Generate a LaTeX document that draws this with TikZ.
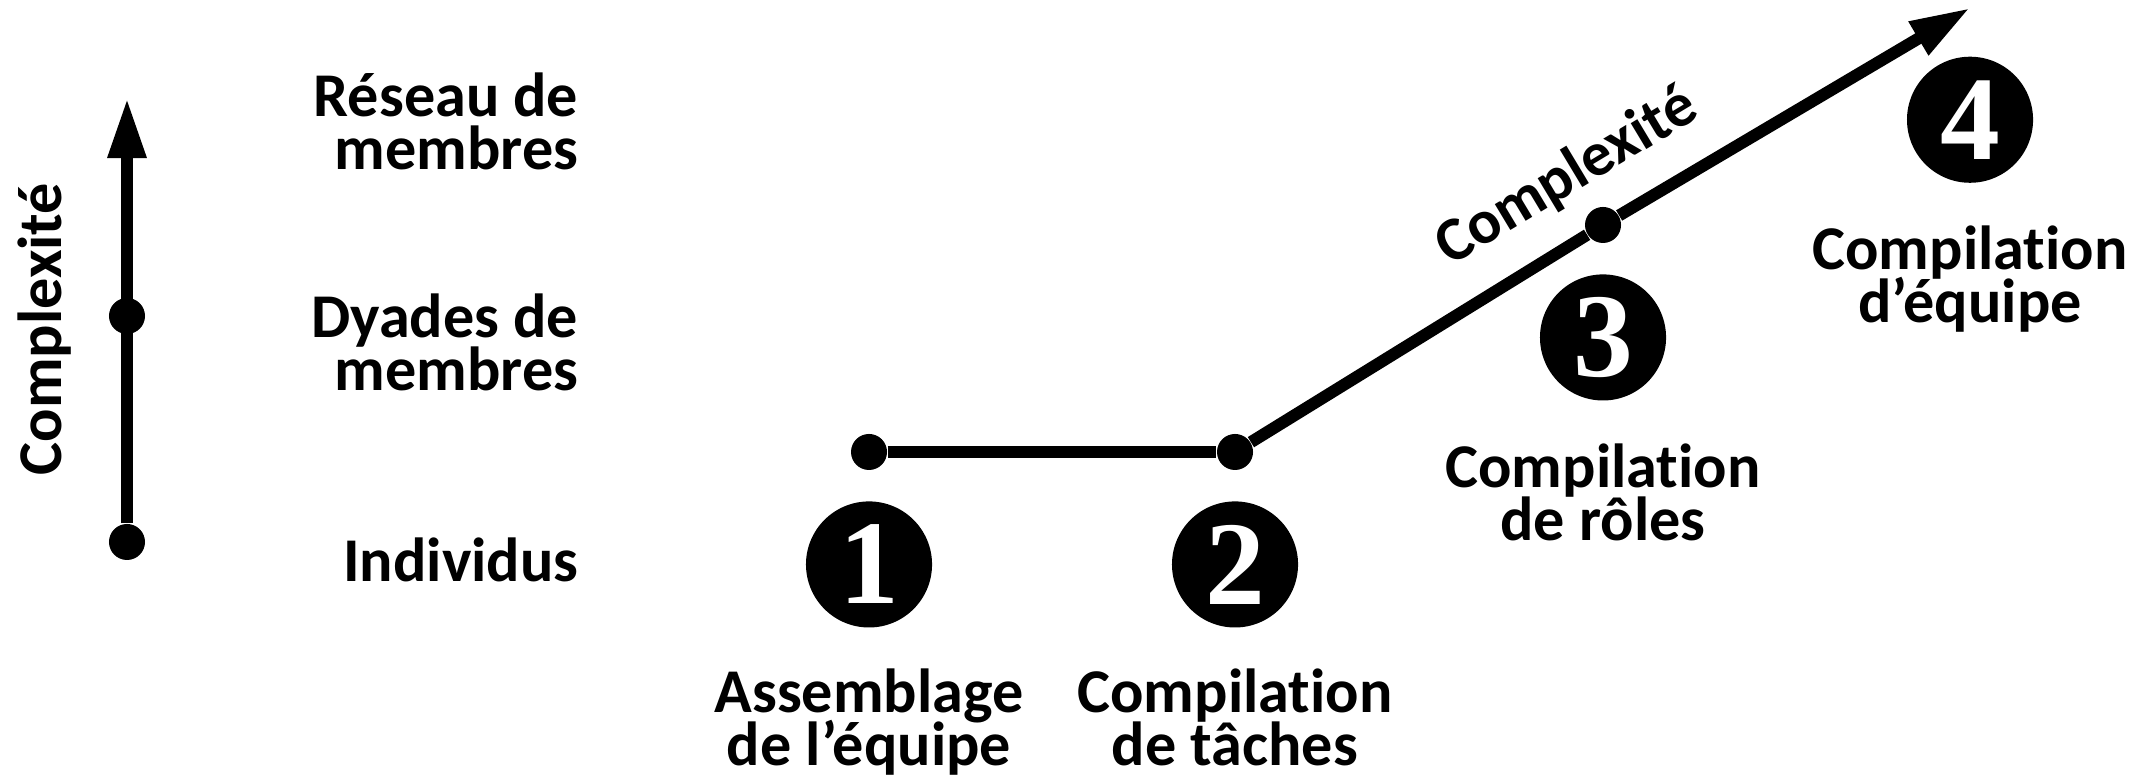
\documentclass[tikz,border=0pt]{standalone}
\usepackage{fontspec}
\setmainfont{Carlito}[Ligatures=NoCommon]
\newfontfamily\chiffres{Liberation Serif}
\usetikzlibrary{positioning,arrows.meta}
\lineskiplimit=-20pt

\begin{document}
\begin{tikzpicture}[x=0.01cm, y=0.01cm, node distance=0.3cm]

\tikzstyle{point}=[circle, fill=black, inner sep=0pt, minimum size=0.36cm]
\tikzstyle{numero}=[circle, fill=black, text=white, inner sep=0pt, minimum size=1.26cm, font=\chiffres\bfseries\fontsize{34}{34}\selectfont]
\tikzstyle{etiquette}=[align=center, inner sep=0pt, font=\bfseries\fontsize{17.7}{15.1}\selectfont]
\tikzstyle{niveau}=[etiquette, align=right, anchor=east]
\tikzstyle{trait}=[line width=0.12cm]
\tikzstyle{fleche}=[trait, -{Triangle[length=0.6cm, width=0.36cm]}]

\useasboundingbox (0,0) rectangle (2152,777);

% axe vertical
\node[point] (indiv) at (127,235) {};
\node[point] (dyade) at (127,461) {};
\coordinate (haut) at (127,679);
\draw[fleche] (indiv) -- (haut);
\node[etiquette, rotate=90] (cplx) at (45,448) {Complexité};

\node[niveau] (nindiv) at (579,217) {Individus};
\node[niveau] (ndyade) at (579,435) {Dyades de\\membres};
\node[niveau] (nreseau) at (579,656) {Réseau de\\membres};

% etapes
\node[point] (a) at (869,325) {};
\node[point] (b) at (1235,325) {};
\node[point] (c) at (1603,552) {};
\coordinate (pointe) at (1970,769);

\draw[trait] (a) -- (b);
\draw[fleche] (b) -- (c) -- (pointe);
\node[etiquette, rotate=31] (cplx2) at (1567,600) {Complexité};

\node[numero, below=of a] (un) {1};
\node[numero, below=of b] (deux) {2};
\node[numero, below=of c] (trois) {3};
\node[numero, below=0.48cm of pointe] (quatre) {4};

\node[etiquette, below=0.4cm of un] (lun) {Assemblage\\de l’équipe};
\node[etiquette, below=0.4cm of deux] (ldeux) {Compilation\\de tâches};
\node[etiquette, below=0.42cm of trois] (ltrois) {Compilation\\de rôles};
\node[etiquette, below=0.42cm of quatre] (lquatre) {Compilation\\d’équipe};

\end{tikzpicture}
\end{document}
